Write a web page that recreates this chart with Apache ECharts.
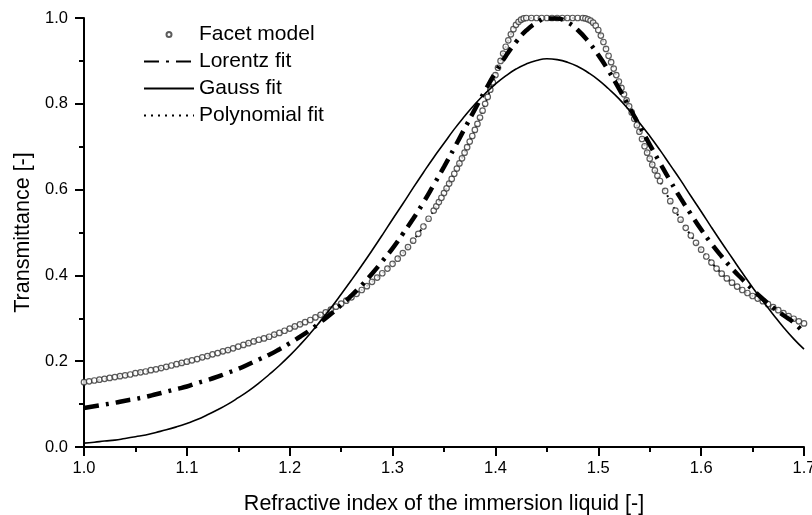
<!DOCTYPE html>
<html>
<head>
<meta charset="utf-8">
<script src="https://cdn.jsdelivr.net/npm/echarts@6/dist/echarts.min.js"></script>
<style>
  html, body { margin: 0; padding: 0; background: #fff; }
  #chart { width: 812px; height: 515px; }
</style>
</head>
<body>
<div id="chart"></div>
<script>
// ---- Data ----
var seriesNames = ['Facet model', 'Lorentz fit', 'Gauss fit', 'Polynomial fit'];

var xTicks = [1.0, 1.1, 1.2, 1.3, 1.4, 1.5, 1.6, 1.7];
var yTicks = [0.0, 0.2, 0.4, 0.6, 0.8, 1.0];

// Facet model (open circles)
var facetX = [
  1.000,1.005,1.010,1.015,1.020,1.025,1.030,1.035,1.040,1.045,
  1.050,1.055,1.060,1.065,1.070,1.075,1.080,1.085,1.090,1.095,
  1.100,1.105,1.110,1.115,1.120,1.125,1.130,1.135,1.140,1.145,
  1.150,1.155,1.160,1.165,1.170,1.175,1.180,1.185,1.190,1.195,
  1.200,1.205,1.210,1.215,1.220,1.225,1.230,1.235,1.240,1.245,
  1.250,1.255,1.260,1.265,1.270,1.275,1.280,1.285,1.290,1.295,
  1.300,1.305,1.310,1.315,1.320,1.325,1.330,1.335,1.340,
  1.3425,1.345,1.3475,1.350,1.3525,1.355,1.3575,1.360,1.3625,1.365,
  1.3675,1.370,1.3725,1.375,1.3775,1.380,1.3825,1.385,1.3875,1.390,
  1.3925,1.395,1.3975,1.400,1.4025,1.405,1.4075,1.410,1.4125,1.415,
  1.4175,1.420,1.4225,1.425,1.4275,1.430,
  1.435,1.440,1.445,1.450,1.455,1.460,1.465,1.470,1.475,1.480,1.485,
  1.4875,1.490,1.4925,1.495,1.4975,1.500,1.5025,1.505,1.5075,1.510,
  1.5125,1.515,1.5175,1.520,1.5225,1.525,1.5275,1.530,1.5325,1.535,
  1.5375,1.540,1.5425,1.545,1.5475,1.550,1.5525,1.555,1.5575,1.560,
  1.565,1.570,1.575,1.580,1.585,1.590,1.595,1.600,1.605,1.610,
  1.615,1.620,1.625,1.630,1.635,1.640,1.645,1.650,1.655,1.660,
  1.665,1.670,1.675,1.680,1.685,1.690,1.695,1.700
];
var facetY = [
  0.151,0.153,0.155,0.157,0.159,0.161,0.163,0.165,0.167,0.169,
  0.172,0.174,0.176,0.179,0.181,0.184,0.187,0.190,0.193,0.196,
  0.199,0.202,0.205,0.209,0.212,0.216,0.219,0.223,0.226,0.230,
  0.234,0.238,0.242,0.246,0.250,0.253,0.257,0.262,0.266,0.271,
  0.276,0.281,0.286,0.291,0.296,0.302,0.308,0.314,0.320,0.327,
  0.334,0.341,0.349,0.357,0.366,0.375,0.385,0.395,0.405,0.416,
  0.427,0.439,0.452,0.466,0.481,0.497,0.514,0.532,0.551,
  0.561,0.571,0.581,0.592,0.603,0.614,0.625,0.637,0.649,0.661,
  0.673,0.686,0.699,0.712,0.725,0.739,0.753,0.768,0.784,0.800,
  0.816,0.833,0.850,0.867,0.884,0.900,0.917,0.933,0.948,0.962,
  0.974,0.984,0.991,0.996,0.999,1.000,
  1.000,1.000,1.000,1.000,1.000,1.000,1.000,1.000,1.000,1.000,1.000,
  0.999,0.997,0.994,0.989,0.982,0.972,0.959,0.944,0.928,0.912,
  0.897,0.882,0.867,0.852,0.837,0.822,0.808,0.794,0.780,0.765,
  0.750,0.735,0.718,0.701,0.686,0.672,0.658,0.645,0.632,0.620,
  0.597,0.573,0.551,0.530,0.511,0.493,0.476,0.460,0.444,0.430,
  0.416,0.404,0.393,0.383,0.374,0.366,0.359,0.352,0.346,0.340,
  0.333,0.326,0.319,0.312,0.305,0.299,0.293,0.288
];

// Fits sampled at 0.01 steps
var fitX = [
  1.00,1.01,1.02,1.03,1.04,1.05,1.06,1.07,1.08,1.09,
  1.10,1.11,1.12,1.13,1.14,1.15,1.16,1.17,1.18,1.19,
  1.20,1.21,1.22,1.23,1.24,1.25,1.26,1.27,1.28,1.29,
  1.30,1.31,1.32,1.33,1.34,1.35,1.36,1.37,1.38,1.39,
  1.40,1.41,1.42,1.43,1.44,1.45,1.46,1.47,1.48,1.49,
  1.50,1.51,1.52,1.53,1.54,1.55,1.56,1.57,1.58,1.59,
  1.60,1.61,1.62,1.63,1.64,1.65,1.66,1.67,1.68,1.69,1.70
];
var lorentzY = [
  0.091,0.095,0.099,0.103,0.108,0.112,0.117,0.123,0.129,0.135,
  0.141,0.149,0.156,0.164,0.173,0.182,0.193,0.204,0.215,0.228,
  0.242,0.257,0.273,0.291,0.310,0.331,0.353,0.377,0.404,0.433,
  0.463,0.497,0.532,0.570,0.611,0.653,0.697,0.742,0.787,0.831,
  0.873,0.911,0.944,0.971,0.989,0.999,0.999,0.990,0.972,0.946,
  0.914,0.877,0.836,0.793,0.749,0.705,0.662,0.620,0.580,0.543,
  0.507,0.474,0.444,0.416,0.391,0.367,0.345,0.325,0.307,0.290,0.266
];
var gaussY = [
  0.009,0.011,0.014,0.016,0.020,0.024,0.028,0.034,0.040,0.047,
  0.055,0.064,0.075,0.087,0.100,0.115,0.131,0.149,0.169,0.190,
  0.213,0.238,0.265,0.294,0.324,0.356,0.389,0.423,0.458,0.494,
  0.531,0.567,0.604,0.640,0.675,0.708,0.741,0.771,0.799,0.824,
  0.846,0.865,0.881,0.893,0.901,0.905,0.903,0.897,0.887,0.873,
  0.856,0.835,0.812,0.785,0.756,0.725,0.692,0.657,0.622,0.585,
  0.549,0.512,0.476,0.441,0.406,0.372,0.340,0.309,0.279,0.252,0.228
];
var polyY = [
  0.151,0.155,0.159,0.163,0.167,0.172,0.176,0.181,0.187,0.193,
  0.199,0.205,0.212,0.219,0.226,0.234,0.242,0.250,0.257,0.266,
  0.276,0.286,0.296,0.308,0.320,0.334,0.349,0.366,0.385,0.405,
  0.427,0.452,0.481,0.514,0.551,0.592,0.637,0.686,0.739,0.800,
  0.867,0.933,0.984,1.000,1.000,1.000,1.000,1.000,1.000,0.997,
  0.972,0.912,0.852,0.794,0.735,0.672,0.620,0.573,0.530,0.493,
  0.460,0.430,0.404,0.383,0.366,0.352,0.340,0.326,0.312,0.299,0.288
];

function pairs(xs, ys) {
  var out = [];
  for (var i = 0; i < xs.length; i++) out.push([xs[i], ys[i]]);
  return out;
}

var FONT = '"Liberation Sans", Arial, Helvetica, sans-serif';
var chart = echarts.init(document.getElementById('chart'));

var hiddenSymbol = { opacity: 0 };

chart.setOption({
  animation: false,
  backgroundColor: '#fff',
  grid: { left: 84, right: 8, top: 18, bottom: 68, containLabel: false, outerBoundsMode: 'none' },
  legend: {
    orient: 'vertical',
    left: 143,
    top: 24,
    padding: 0,
    itemWidth: 50,
    itemHeight: 5,
    itemGap: 6,
    textStyle: { color: '#000', fontSize: 21, fontFamily: FONT, lineHeight: 21 },
    data: [
      { name: seriesNames[0] },
      { name: seriesNames[1], itemStyle: hiddenSymbol },
      { name: seriesNames[2], itemStyle: hiddenSymbol },
      { name: seriesNames[3], itemStyle: hiddenSymbol }
    ]
  },
  xAxis: {
    type: 'value',
    min: xTicks[0],
    max: xTicks[xTicks.length - 1],
    interval: 0.1,
    name: 'Refractive index of the immersion liquid [-]',
    nameLocation: 'middle',
    nameGap: 46,
    nameTextStyle: { color: '#000', fontSize: 21.5, fontFamily: FONT },
    axisLine: { show: true, lineStyle: { color: '#000', width: 2 } },
    axisTick: { show: true, length: 9, lineStyle: { color: '#000', width: 2 } },
    minorTick: { show: true, splitNumber: 2, length: 5, lineStyle: { color: '#000', width: 2 } },
    splitLine: { show: false },
    axisLabel: {
      color: '#000', fontSize: 16.5, fontFamily: FONT, margin: 13,
      formatter: function (v) { return v.toFixed(1); }
    }
  },
  yAxis: {
    type: 'value',
    min: yTicks[0],
    max: yTicks[yTicks.length - 1],
    interval: 0.2,
    name: 'Transmittance [-]',
    nameLocation: 'middle',
    nameGap: 47,
    nameTextStyle: { color: '#000', fontSize: 21.5, fontFamily: FONT },
    axisLine: { show: true, lineStyle: { color: '#000', width: 2 } },
    axisTick: { show: true, length: 9, lineStyle: { color: '#000', width: 2 } },
    minorTick: { show: true, splitNumber: 2, length: 5, lineStyle: { color: '#000', width: 2 } },
    splitLine: { show: false },
    axisLabel: {
      color: '#000', fontSize: 16.5, fontFamily: FONT, margin: 16,
      formatter: function (v) { return v.toFixed(1); }
    }
  },
  series: [
    {
      name: seriesNames[0],
      type: 'scatter',
      symbol: 'circle',
      symbolSize: 5.5,
      itemStyle: { color: '#fff', borderColor: '#333', borderWidth: 1.2 },
      data: pairs(facetX, facetY),
      z: 2
    },
    {
      name: seriesNames[1],
      type: 'line',
      symbol: 'none',
      smooth: true,
      lineStyle: { color: '#000', width: 4.5, type: [15, 7, 3, 7], cap: 'butt' },
      itemStyle: { color: '#000' },
      data: pairs(fitX, lorentzY),
      z: 3
    },
    {
      name: seriesNames[2],
      type: 'line',
      symbol: 'none',
      smooth: true,
      lineStyle: { color: '#000', width: 1.6, type: 'solid' },
      itemStyle: { color: '#000' },
      data: pairs(fitX, gaussY),
      z: 3
    },
    {
      name: seriesNames[3],
      type: 'line',
      symbol: 'none',
      smooth: 0.3,
      lineStyle: { color: '#000', width: 2, type: [2, 5] },
      itemStyle: { color: '#000' },
      data: pairs(fitX, polyY),
      z: 1
    }
  ]
});
</script>
</body>
</html>
